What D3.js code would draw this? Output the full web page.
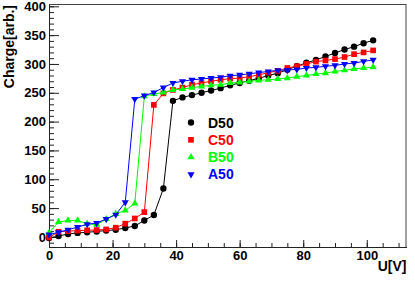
<!DOCTYPE html>
<html>
<head>
<meta charset="utf-8">
<script src="https://cdn.jsdelivr.net/npm/d3@7"></script>
<style>
  body { margin: 0; background: #fff; }
  text { font-family: "Liberation Sans", Arial, sans-serif; font-weight: bold; }
</style>
</head>
<body>
<div id="chart"></div>
<script>
// size of the picture
var width = 415,
    height = 281;

// frame edges (ROOT-like pad) - "top" is taken by window.top, so prefix them
var frameLeft = 49, frameRight = 406.5, frameTop = 4, frameBottom = 247;

// voltage steps, 0..102 V every 3 V
var voltage = [0, 3, 6, 9, 12, 15, 18, 21, 24, 27, 30, 33, 36, 39, 42, 45, 48, 51,
               54, 57, 60, 63, 66, 69, 72, 75, 78, 81, 84, 87, 90, 93, 96, 99, 102];

// charge for each chamber
var d50 = [-2, 1.5, 5, 7, 8, 9.5, 11, 12.5, 15.5, 19, 28.5, 38, 84, 236, 242, 246, 250, 254,
           258, 263, 267, 271, 275, 280, 284, 290, 296, 302, 307, 313, 319, 325, 330, 336, 341];
var c50 = [-1, 9, 10, 11, 11.5, 12, 13, 16, 23, 32, 43, 229, 249, 255, 259, 264, 267, 270,
           272.5, 274.5, 275.5, 278, 281, 285, 288, 293, 296, 300, 304, 306, 308.5, 312, 317, 320, 323.5];
var b50 = [7, 26, 28.5, 28.5, 23, 21, 31, 40, 46, 58, 244, 248, 250.5, 255, 256.5, 259, 261, 263,
           264, 267, 268, 270, 271.5, 272.5, 274, 275.5, 278, 280, 282.5, 284, 287, 289, 291.5, 293, 294.5];
var a50 = [4, 8, 12.5, 17, 22, 24, 31, 38.5, 60, 239, 245, 250.5, 259, 267, 270, 272.5, 274, 275.5,
           277, 279.5, 281, 283, 285, 287, 289, 289.5, 290.5, 293, 294, 296, 297.5, 300, 301.5, 304.5, 307];

var names = ["D50", "C50", "B50", "A50"];
var colors = ["#000000", "#ff0000", "#00ff00", "#0000ff"];
var shapes = [d3.symbolCircle, d3.symbolSquare, d3.symbolTriangle, d3.symbolTriangle];
var sizes = [32, 32, 22, 22];
var series = [d50, c50, b50, a50];

var svg = d3.select("#chart")
            .append("svg")
            .attr("width", width)
            .attr("height", height);

var x = d3.scaleLinear().domain([0, 112.5]).range([frameLeft, frameRight]);
var y = d3.scaleLinear().domain([-17.5, 404]).range([frameBottom, frameTop]);

// frame
svg.append("rect")
   .attr("x", frameLeft + 0.5).attr("y", frameTop + 0.5)
   .attr("width", frameRight - frameLeft - 1).attr("height", frameBottom - frameTop)
   .attr("fill", "none").attr("stroke", "#444").attr("stroke-width", 1);

// minor ticks first, no labels
svg.append("g")
   .attr("transform", "translate(" + frameLeft + ",0)")
   .call(d3.axisLeft(y).tickValues(d3.range(-10, 401, 10)).tickFormat("").tickSizeInner(-5).tickSizeOuter(0))
   .call(function(g) { g.select(".domain").remove(); });

svg.append("g")
   .attr("transform", "translate(0," + frameBottom + ")")
   .call(d3.axisBottom(x).tickValues(d3.range(0, 112, 5)).tickFormat("").tickSizeInner(-4).tickSizeOuter(0))
   .call(function(g) { g.select(".domain").remove(); });

// major ticks with labels
svg.append("g")
   .attr("transform", "translate(" + frameLeft + ",0)")
   .call(d3.axisLeft(y).tickValues(d3.range(0, 401, 50)).tickSizeInner(-10).tickSizeOuter(0).tickPadding(3));

svg.append("g")
   .attr("transform", "translate(0," + frameBottom + ")")
   .call(d3.axisBottom(x).tickValues(d3.range(0, 101, 20)).tickSizeInner(-7).tickSizeOuter(0).tickPadding(4));

svg.selectAll(".tick line").attr("stroke", "#222");
svg.selectAll(".domain").attr("stroke", "#222");
svg.selectAll(".tick text")
   .attr("font-size", 13)
   .attr("font-family", "Liberation Sans, Arial, sans-serif")
   .attr("font-weight", "bold")
   .attr("fill", "#000");

// axis titles
svg.append("text")
   .attr("x", frameRight)
   .attr("y", 271)
   .attr("text-anchor", "end")
   .attr("font-size", 14)
   .text("U[V]");

svg.append("text")
   .attr("transform", "translate(14,5) rotate(-90)")
   .attr("text-anchor", "end")
   .attr("font-size", 14)
   .text("Charge[arb.]");

// lines and markers, blue ends up on top
var line = d3.line()
             .x(function(d, i) { return x(voltage[i]); })
             .y(function(d) { return y(d); });

series.forEach(function(vals, s) {
    svg.append("path")
       .datum(vals)
       .attr("d", line)
       .attr("fill", "none")
       .attr("stroke", colors[s])
       .attr("stroke-width", 1);

    svg.selectAll(".pt" + s)
       .data(vals)
       .enter()
       .append("path")
       .attr("class", "pt" + s)
       .attr("d", d3.symbol().type(shapes[s]).size(sizes[s]))
       .attr("transform", function(d, i) {
           return "translate(" + x(voltage[i]) + "," + y(d) + ")" + (s === 3 ? " rotate(180)" : "");
       })
       .attr("fill", colors[s]);
});

// legend
var legend = svg.append("g");
names.forEach(function(n, i) {
    var cy = 122.5 + i * 17.3;
    legend.append("path")
          .attr("d", d3.symbol().type(shapes[i]).size(sizes[i]))
          .attr("transform", "translate(191," + cy + ")" + (i === 3 ? " rotate(180)" : ""))
          .attr("fill", colors[i]);
    legend.append("text")
          .attr("x", 208)
          .attr("y", cy)
          .attr("dy", "0.36em")
          .attr("font-size", 14)
          .attr("fill", colors[i])
          .text(n);
});
</script>
</body>
</html>
